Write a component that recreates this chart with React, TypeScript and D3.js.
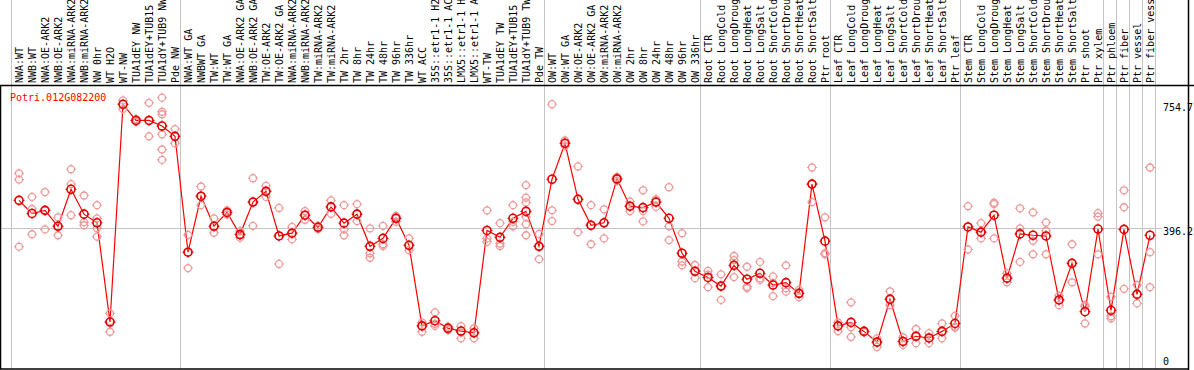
import React, { useEffect } from 'react'
import * as d3 from 'd3'

const title = 'Potri.012G082200'

const categories = [
  'NWA:WT', 'NWB:WT', 'NWA:OE-ARK2', 'NWB:OE-ARK2', 'NWA:miRNA-ARK2', 'NWB:miRNA-ARK2', 'NW 0hr', 'WT H2O',
  'WT-NW', 'TUA1dEY NW', 'TUA1dEY+TUB15 NW', 'TUA1dY+TUB9 NW', 'Pde NW',
  'NWA:WT GA', 'NWBWT GA', 'TW:WT', 'TW:WT GA', 'NWA:OE-ARK2 GA', 'NWB:OE-ARK2 GA', 'TW:OE-ARK2', 'TW:OE-ARK2 GA',
  'NWA:miRNA-ARK2 GA', 'NWB:miRNA-ARK2 GA', 'TW:miRNA-ARK2', 'TW:miRNA-ARK2 GA', 'TW 2hr', 'TW 8hr', 'TW 24hr',
  'TW 48hr', 'TW 96hr', 'TW 336hr', 'WT ACC', '35S::etr1-1 H2O', '35S::etr1-1 ACC', 'LMX5::etr1-1 H2O',
  'LMX5::etr1-1 ACC', 'WT-TW', 'TUA1dEY TW', 'TUA1dEY+TUB15 TW', 'TUA1dY+TUB9 TW', 'Pde TW',
  'OW:WT', 'OW:WT GA', 'OW:OE-ARK2', 'OW:OE-ARK2 GA', 'OW:miRNA-ARK2', 'OW:miRNA-ARK2 GA', 'OW 2hr', 'OW 8hr',
  'OW 24hr', 'OW 48hr', 'OW 96hr', 'OW 336hr',
  'Root CTR', 'Root LongCold', 'Root LongDrought', 'Root LongHeat', 'Root LongSalt', 'Root ShortCold',
  'Root ShortDrought', 'Root ShortHeat', 'Root ShortSalt', 'Ptr root',
  'Leaf CTR', 'Leaf LongCold', 'Leaf LongDrought', 'Leaf LongHeat', 'Leaf LongSalt', 'Leaf ShortCold',
  'Leaf ShortDrought', 'Leaf ShortHeat', 'Leaf ShortSalt', 'Ptr leaf',
  'Stem CTR', 'Stem LongCold', 'Stem LongDrought', 'Stem LongHeat', 'Stem LongSalt', 'Stem ShortCold',
  'Stem ShortDrought', 'Stem ShortHeat', 'Stem ShortSalt', 'Ptr shoot', 'Ptr xylem', 'Ptr phloem',
  'Ptr fiber', 'Ptr vessel', 'Ptr fiber vessel',
]

const means = [
  477, 439, 448, 402, 509, 437, 412, 125, 754.7, 708, 708, 692, 662,
  327, 489, 402, 442, 378, 472, 503, 374, 382, 434, 399, 458, 411, 437, 344, 367, 425, 347,
  114, 129, 107, 99, 94, 390, 370, 425, 445, 344,
  538, 642, 480, 405, 412, 539, 460, 456, 472, 425, 324, 272,
  254, 229, 289, 249, 266, 232, 239, 208, 524, 359,
  114, 124, 98, 67, 191, 69, 84, 79, 98, 121,
  400, 385, 434, 252, 380, 376, 374, 189, 295, 155, 394, 159, 393, 205, 376,
]

const replicates = [
  [555, 537, 343], [487, 452, 379], [501, 448, 393], [428, 402, 376], [567, 524, 434], [491, 414, 405],
  [463, 425, 396, 372], [150, 128, 97], [766, 755, 741], [712, 708, 704], [759, 708, 662],
  [774, 733, 726, 668, 624, 594], [683, 662, 642],
  [377, 327, 281], [517, 489, 463], [425, 402, 383], [448, 442, 436], [388, 378, 369], [541, 472, 403],
  [519, 503, 487], [455, 374, 293], [400, 382, 364], [446, 434, 421], [404, 399, 394], [477, 458, 438],
  [463, 393, 376], [466, 437, 417], [396, 324, 311], [403, 350, 345], [432, 425, 415], [367, 347, 333],
  [124, 114, 97], [153, 120, 114], [112, 107, 102], [113, 95, 78], [107, 94, 78], [448, 367, 357],
  [411, 352, 345], [463, 415, 402], [521, 485, 471, 429, 408, 376], [380, 344, 307],
  [755, 448, 417], [650, 642, 634], [575, 480, 385], [463, 405, 350], [451, 412, 367], [545, 539, 533],
  [473, 460, 446], [506, 446, 416], [480, 472, 458], [515, 402, 362], [382, 300, 289], [290, 272, 252],
  [273, 262, 226], [263, 229, 189], [316, 304, 255], [285, 227, 223], [299, 252, 247], [257, 238, 200],
  [289, 223, 213], [218, 208, 197], [572, 524, 472], [428, 324, 321],
  [124, 114, 99], [182, 110, 82], [100, 98, 96], [78, 67, 53], [214, 191, 174], [81, 69, 59],
  [105, 84, 64], [93, 79, 64], [121, 98, 78], [143, 112, 109],
  [460, 400, 335], [411, 385, 367], [470, 466, 367], [266, 252, 240], [454, 396, 299], [442, 360, 321],
  [413, 389, 321], [201, 189, 174], [350, 295, 240], [174, 170, 121], [440, 430, 321], [198, 142, 136],
  [506, 457, 221], [232, 206, 179], [572, 327, 226],
]

// column boundaries that get a grey divider
const dividers = [0, 13, 41, 53, 63, 73, 84, 85, 86, 87, 88]
const yTicks = [754.7, 396.2, 0]
const meanLine = 396.2

const W = 1194
const H = 370
const font = '"DejaVu Sans Mono", monospace'

const Ring = ({ cx, cy, color, r, sw }: { cx: number; cy: number; color: string; r: number; sw: number }) => (
  <g stroke={color} fill="none" strokeWidth={sw}>
    <circle cx={cx} cy={cy} r={r} />
    <line x1={cx} x2={cx} y1={cy - r - 1.5} y2={cy - r + 0.5} strokeWidth={1} />
    <line x1={cx} x2={cx} y1={cy + r - 0.5} y2={cy + r + 1.5} strokeWidth={1} />
    <line y1={cy} y2={cy} x1={cx - r - 1.5} x2={cx - r + 0.5} strokeWidth={1} />
    <line y1={cy} y2={cy} x1={cx + r - 0.5} x2={cx + r + 1.5} strokeWidth={1} />
  </g>
)

export default () => {
  useEffect(() => {
    document.body.style.margin = '0'
  }, [])

  const x = d3.scaleLinear().domain([0, categories.length]).range([11, 1155])
  const px = (i: number) => x(i) + 8
  const y = d3.scaleLinear().domain([0, 754.7]).range([365.3, 104.3])

  const line = d3
    .line<number>()
    .x((_, i) => px(i))
    .y((d) => y(d))
  const path = line(means) as string

  const headerBottom = 86
  const plotBottom = 369

  return (
    <svg width={W} height={H} style={{ position: 'absolute', left: 0, top: 0, display: 'block' }}>
      <rect width={W} height={H} fill="#fff" />
      {dividers.map((d) => (
        <line key={d} x1={x(d) + 0.5} x2={x(d) + 0.5} y1={0} y2={plotBottom} stroke="#c4c4c4" strokeWidth={1} />
      ))}
      <line x1={0} x2={1162} y1={Math.round(y(meanLine)) + 0.5} y2={Math.round(y(meanLine)) + 0.5} stroke="#c4c4c4" />

      <line x1={0} x2={W} y1={headerBottom - 0.5} y2={headerBottom - 0.5} stroke="#000" strokeWidth={1.5} />
      <line x1={0.5} x2={0.5} y1={headerBottom} y2={plotBottom} stroke="#000" strokeWidth={1.5} />
      <line x1={0} x2={1189} y1={plotBottom} y2={plotBottom} stroke="#000" strokeWidth={1.5} />
      <line x1={1188.5} x2={1188.5} y1={0} y2={H} stroke="#000" strokeWidth={1.5} />

      {categories.map((c, i) => (
        <text
          key={c + i}
          transform={`translate(${px(i) + 3.5},${headerBottom - 3}) rotate(-90)`}
          fontFamily={font}
          fontSize={10}
          fill="#000"
        >
          {c}
        </text>
      ))}

      <path d={path} fill="none" stroke="#ff0000" strokeWidth={1.2} />

      {replicates.map((reps, i) =>
        reps.map((v, j) => <Ring key={`${i}-${j}`} cx={px(i)} cy={y(v)} r={3.5} sw={1.3} color="#ee9999" />)
      )}
      {means.map((v, i) => (
        <Ring key={i} cx={px(i)} cy={y(v)} r={4} sw={1.6} color="#e00000" />
      ))}

      <text x={10} y={101} fontFamily={font} fontSize={10} fill="#ff0000">
        {title}
      </text>

      {yTicks.map((t) => (
        <text
          key={t}
          x={1163}
          y={Math.min(y(t) + 3.4, 362)}
          dominantBaseline="middle"
          fontFamily={font}
          fontSize={10}
          fill="#000"
        >
          {t === 0 ? '0' : t.toFixed(1)}
        </text>
      ))}
    </svg>
  )
}
